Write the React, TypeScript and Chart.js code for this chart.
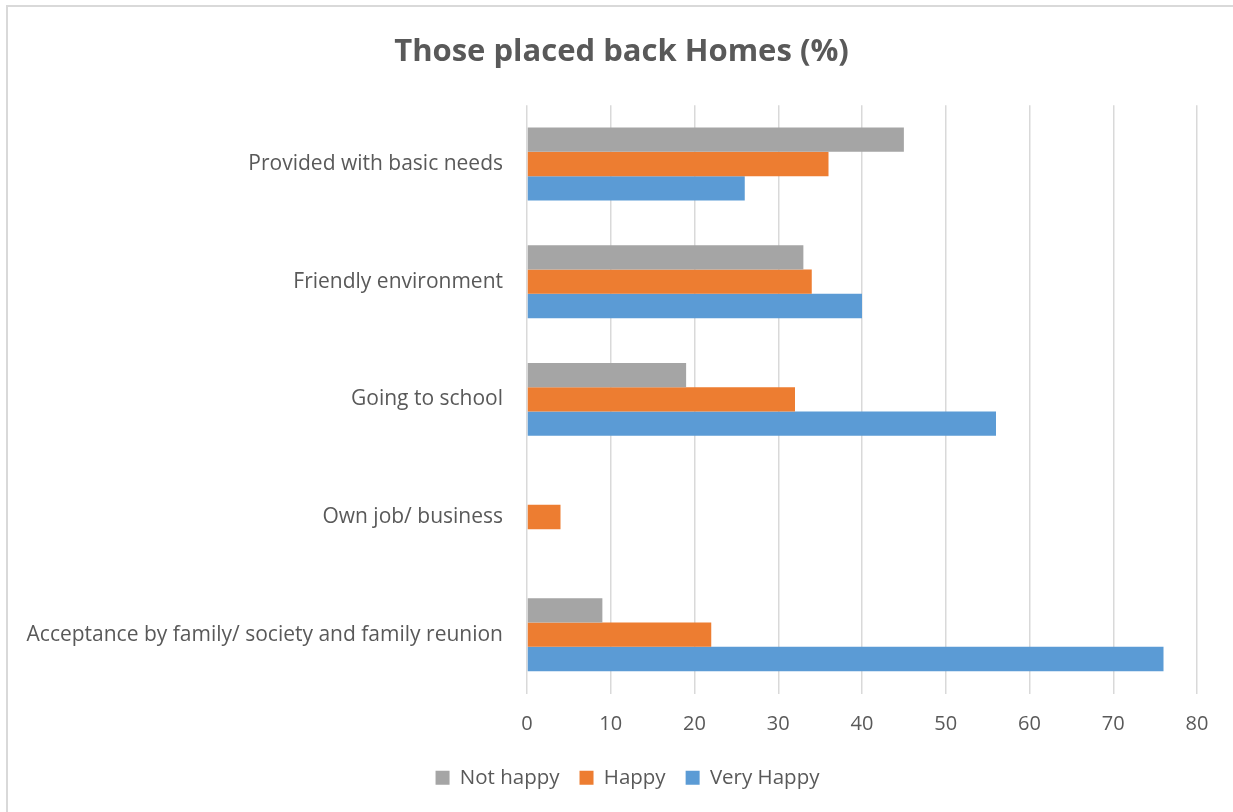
import React, { useEffect, useRef } from "react";
import { Chart, registerables } from "chart.js";

Chart.register(...registerables);

const categories = [
  "Provided with basic needs",
  "Friendly environment",
  "Going to school",
  "Own job/ business",
  "Acceptance by family/ society and family reunion",
];
const notHappy = [45, 33, 19, 0, 9];
const happy = [36, 34, 32, 4, 22];
const veryHappy = [26, 40, 56, 0, 76];
const xTicks = [0, 10, 20, 30, 40, 50, 60, 70, 80];

const FONT = "'Open Sans', 'Noto Sans', sans-serif";
const TEXT = "#595959";

const shiftBoxes = {
  id: "shiftBoxes",
  afterLayout(chart: any) {
    const t = chart.titleBlock;
    if (t) {
      t.left += 23;
      t.right += 23;
    }
    const l = chart.legend;
    if (l) {
      l.left += 29;
      l.right += 29;
    }
  },
};

export default function App() {
  const ref = useRef<HTMLCanvasElement | null>(null);
  useEffect(() => {
    if (!ref.current) return;
    const chart = new Chart(ref.current, {
      type: "bar",
      data: {
        labels: categories,
        datasets: [
          { label: "Not happy", data: notHappy, backgroundColor: "#A5A5A5" },
          { label: "Happy", data: happy, backgroundColor: "#ED7D31" },
          { label: "Very Happy", data: veryHappy, backgroundColor: "#5B9BD5" },
        ],
      },
      plugins: [shiftBoxes],
      options: {
        indexAxis: "y",
        animation: false,
        responsive: false,
        maintainAspectRatio: false,
        categoryPercentage: 0.62,
        barPercentage: 1,
        layout: { padding: { top: 30, right: 36, bottom: 14, left: 0 } },
        plugins: {
          title: {
            display: true,
            text: "Those placed back Homes (%)",
            color: TEXT,
            font: { family: FONT, size: 31, weight: "bold" },
            padding: { top: 4, bottom: 34 },
          },
          legend: {
            position: "bottom",
            labels: {
              color: TEXT,
              font: { family: FONT, size: 20.5 },
              boxWidth: 14,
              boxHeight: 14,
              padding: 20,
            },
          },
          tooltip: { enabled: false },
        },
        scales: {
          x: {
            min: 0,
            max: 80,
            afterBuildTicks: (s: any) => {
              s.ticks = xTicks.map((v) => ({ value: v }));
            },
            grid: { color: "#D9D9D9", lineWidth: 1.5, drawTicks: false },
            border: { display: false },
            ticks: {
              color: TEXT,
              font: { family: FONT, size: 20 },
              padding: 19,
            },
            afterFit: (s: any) => {
              s.height = 54;
            },
          },
          y: {
            grid: { display: false, drawTicks: false },
            border: { display: false },
            ticks: {
              color: TEXT,
              font: { family: FONT, size: 21 },
              padding: 24,
            },
            afterFit: (s: any) => {
              s.width = 527;
            },
          },
        },
      },
    });
    return () => chart.destroy();
  }, []);

  return (
    <div style={{ position: "fixed", left: 0, top: 0, width: 1233, height: 812, background: "#fff", overflow: "hidden" }}>
      <div
        style={{
          position: "absolute",
          left: 6,
          top: 5,
          width: 1240,
          height: 820,
          border: "2px solid #D9D9D9",
          boxSizing: "border-box",
        }}
      />
      <canvas ref={ref} width={1233} height={812} style={{ position: "absolute", left: 0, top: 0 }} />
    </div>
  );
}
